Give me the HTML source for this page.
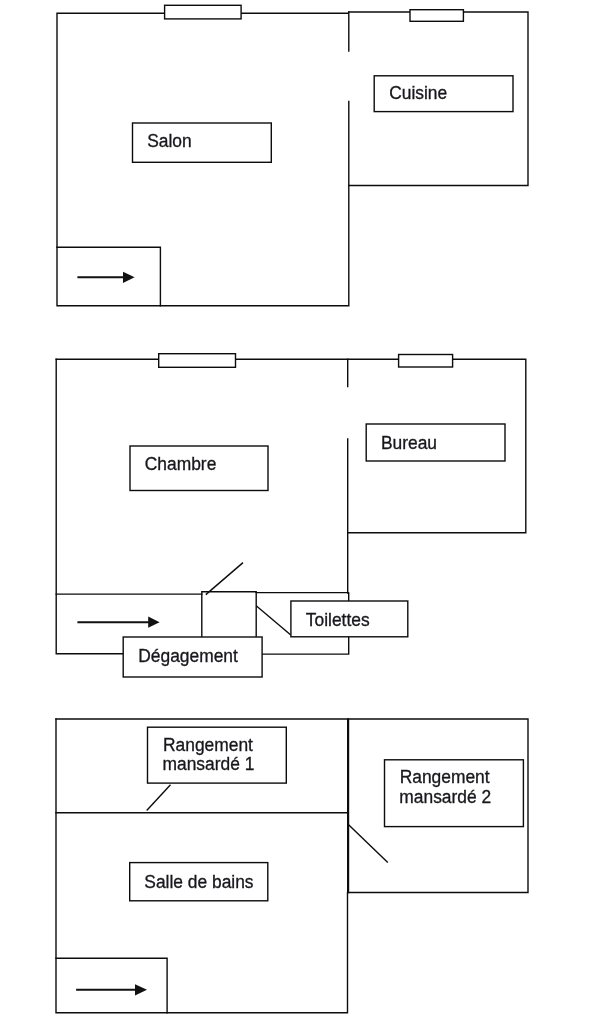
<!DOCTYPE html>
<html>
<head>
<meta charset="utf-8">
<title>Plan</title>
<style>
html,body{margin:0;padding:0;background:#fff;}
body{width:606px;height:1024px;overflow:hidden;}
svg{display:block;filter:blur(0.22px);}
.w{stroke:#0c0c0c;stroke-width:1.4;fill:none;stroke-linecap:square;}
.d{stroke:#0c0c0c;stroke-width:1.4;fill:none;stroke-linecap:butt;}
.k{stroke:#0c0c0c;stroke-width:2.2;fill:none;stroke-linecap:butt;}
.b{stroke:#0c0c0c;stroke-width:1.4;fill:#fff;}
.a{stroke:#111;stroke-width:2;fill:none;}
.h{fill:#111;stroke:none;}
text{font-family:"Liberation Sans",sans-serif;font-size:17.4px;fill:#17171c;stroke:#17171c;stroke-width:0.3px;}
</style>
</head>
<body>
<svg width="606" height="1024" viewBox="0 0 606 1024">
<rect x="0" y="0" width="606" height="1024" fill="#fff"/>

<!-- ===== Floor 1 ===== -->
<path class="w" d="M57 13.2 H348.8 M57 13.2 V305.7 H348.8 V101.5 M348.8 12 V51"/>
<path class="w" d="M348.8 12 H528 V185.5 H348.8"/>
<rect class="b" x="164.6" y="5.3" width="76.5" height="13.6"/>
<rect class="b" x="410" y="9.7" width="53.4" height="11.6"/>
<path class="w" d="M57 247.2 H160.4 V305.7"/>
<rect class="b" x="132.5" y="123" width="138.8" height="39.3"/>
<text transform="translate(147.2 146.7) scale(1 1.05)">Salon</text>
<rect class="b" x="374.2" y="75.8" width="138.8" height="35.8"/>
<text transform="translate(389.2 99.3) scale(1 1.05)">Cuisine</text>
<path class="a" d="M77.4 277.3 H124"/>
<path class="h" d="M123 271.7 L134.6 277.3 L123 282.9 Z"/>

<!-- ===== Floor 2 ===== -->
<path class="w" d="M56.2 359.3 H525.8 V532.7 H347.7"/>
<path class="w" d="M56.2 359.3 V653.7 H123.5 M262 654.1 H348.7 V593"/>
<path class="w" d="M347.7 359.3 V386.6 M347.7 439 V593"/>
<path class="w" d="M56.2 594.1 H201.8 M256.2 592.6 H348"/>
<path class="w" d="M201.8 637 V591.8 H256.2 V637"/>
<path class="d" d="M205.8 594.6 L243 562.6"/>
<path class="d" d="M256.2 605.8 L290.8 635"/>
<rect class="b" x="158.7" y="353.7" width="76.8" height="13.6"/>
<rect class="b" x="398.6" y="354.5" width="54" height="12.5"/>
<rect class="b" x="130" y="446" width="138" height="44.5"/>
<text transform="translate(144.8 469.8) scale(1 1.05)">Chambre</text>
<rect class="b" x="366.2" y="424" width="138.8" height="37"/>
<text transform="translate(380.9 448.8) scale(1 1.05)">Bureau</text>
<rect class="b" x="290.9" y="601" width="116.9" height="35.8"/>
<text transform="translate(305.8 625.9) scale(1 1.05)">Toilettes</text>
<rect class="b" x="123.2" y="637" width="138.9" height="40"/>
<text transform="translate(138.3 661.8) scale(1 1.05)">Dégagement</text>
<path class="a" d="M77.4 622.2 H150"/>
<path class="h" d="M148.2 616.6 L159.6 622.2 L148.2 627.8 Z"/>

<!-- ===== Floor 3 ===== -->
<path class="w" d="M56 719 H528 V892.5 H348.1"/>
<path class="w" d="M56 719 V1012.7 H347.5 V892.5"/>
<path class="k" d="M348.1 718.3 V893.2"/>
<path class="w" d="M56 812.8 H348.1"/>
<path class="w" d="M56 958.3 H167.1 V1012.7"/>
<path class="d" d="M170.5 784.7 L146.7 810.5"/>
<path class="d" d="M348.6 824.8 L387.8 862.6"/>
<rect class="b" x="147.5" y="727.2" width="138.8" height="55.9"/>
<text transform="translate(163 750.9) scale(1 1.05)">Rangement</text>
<text transform="translate(162.5 770.3) scale(1 1.05)">mansardé 1</text>
<rect class="b" x="384.5" y="759.8" width="138.9" height="66.8"/>
<text transform="translate(399.7 783.2) scale(1 1.05)">Rangement</text>
<text transform="translate(399.3 803.1) scale(1 1.05)">mansardé 2</text>
<rect class="b" x="129.7" y="862.6" width="138.1" height="38.2"/>
<text transform="translate(144.3 887.6) scale(1 1.05)">Salle de bains</text>
<path class="a" d="M76.1 989.8 H137"/>
<path class="h" d="M135 984.2 L147 989.8 L135 995.4 Z"/>
</svg>
</body>
</html>
